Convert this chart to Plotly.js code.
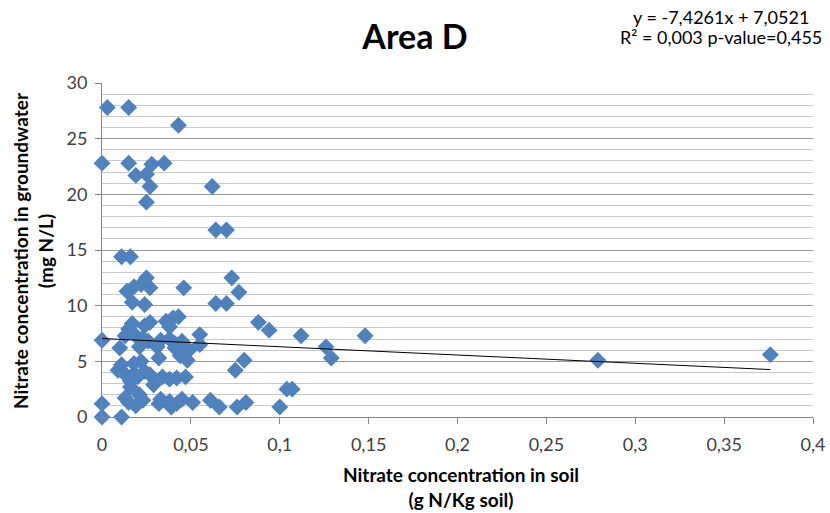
<!DOCTYPE html>
<html>
<head>
<meta charset="utf-8">
<script src="https://cdn.plot.ly/plotly-3.0.1.min.js"></script>
<style>html,body{margin:0;padding:0;background:#fff;}#chart{width:830px;height:513px;}</style>
</head>
<body>
<div id="chart"></div>
<script>
// Nitrate in soil (g N/Kg soil)
const soilNitrate = [
  0.003,0.015,0.043,
  0,0.015,0.028,0.035,
  0.019,0.025,0.027,0.025,0.062,
  0.064,0.070,
  0.011,0.016,
  0.025,0.073,
  0.014,0.018,0.022,0.027,0.046,0.077,
  0.017,0.024,0.064,0.070,
  0.017,0.015,0.024,0.027,0.036,0.038,0.040,0.043,0.088,0.094,
  0,0.013,0.019,0.023,0.026,0.033,0.038,0.041,0.045,0.055,0.112,0.148,
  0.010,0.021,0.031,0.041,0.049,0.055,0.126,
  0.011,0.018,0.022,0.032,0.044,0.048,0.080,0.129,0.279,0.376,
  0.009,0.012,0.018,0.024,0.027,0.075,
  0.016,0.020,0.034,0.038,0.042,0.047,
  0.016,0.029,
  0.104,0.107,
  0.013,0.021,0.023,0.033,0.045,0.061,
  0.015,0.032,0.038,0.042,0.051,0.081,
  0,0.019,0.039,0.066,0.076,0.100,
  0,0.011
];
// Nitrate in groundwater (mg N/L)
const groundwaterNitrate = [
  27.8,27.8,26.2,
  22.8,22.8,22.7,22.8,
  21.7,21.8,20.7,19.3,20.7,
  16.8,16.8,
  14.4,14.4,
  12.5,12.5,
  11.3,11.7,11.9,11.6,11.6,11.2,
  10.3,10.1,10.2,10.2,
  8.4,7.9,8.2,8.5,8.6,8.1,8.9,9.0,8.5,7.8,
  6.9,7.3,7.3,7.1,6.8,6.9,7.0,6.6,6.8,7.4,7.3,7.3,
  6.2,6.3,6.3,6.2,6.0,6.5,6.3,
  4.7,4.8,5.0,5.3,5.5,5.1,5.1,5.3,5.1,5.6,
  4.2,4.0,3.9,4.1,3.8,4.2,
  3.2,3.6,3.6,3.4,3.5,3.6,
  2.7,2.9,
  2.5,2.5,
  1.7,2.0,1.5,1.6,1.6,1.5,
  1.3,1.2,1.4,1.2,1.3,1.3,
  1.2,1.0,0.9,0.9,0.9,0.9,
  0,0
];
const trendSlope = -7.4261;
const trendIntercept = 7.0521;
const titleText = "Area D";
const eqText = "y = -7,4261x + 7,0521";
const statsText = "R² = 0,003 p-value=0,455";
const xTitleText = "Nitrate concentration in soil<br>(g N/Kg soil)";
const yTitleText = "Nitrate concentration in groundwater<br>(mg N/L)";
const xTickVals = [0,0.05,0.1,0.15,0.2,0.25,0.3,0.35,0.4];
const xTickText = ["0","0,05","0,1","0,15","0,2","0,25","0,3","0,35","0,4"];
const yTickVals = [0,5,10,15,20,25,30];

const xMin = Math.min(...soilNitrate), xMax = Math.max(...soilNitrate);
const trendX = [xMin, xMax];
const trendY = trendX.map(v => trendSlope * v + trendIntercept);

const FONT = "Lato, 'Open Sans', sans-serif";
const L = 102, R = 17, T = 83, B = 96, W = 830, H = 513;
const PW = W - L - R, PH = H - T - B;
const px = v => (v - L) / PW;           // pixel x -> paper x
const py = v => (H - B - v) / PH;       // pixel y -> paper y

const data = [
  {
    x: soilNitrate, y: groundwaterNitrate, type: 'scatter', mode: 'markers',
    marker: {symbol: 'diamond', size: 13, color: '#4F81BD', line: {width: 0}},
    cliponaxis: false, hoverinfo: 'x+y'
  },
  {
    x: trendX, y: trendY, type: 'scatter', mode: 'lines',
    line: {color: '#000000', width: 1}, hoverinfo: 'skip'
  }
];

const layout = {
  width: W, height: H,
  margin: {l: L, r: R, t: T, b: B},
  paper_bgcolor: '#ffffff', plot_bgcolor: '#ffffff',
  showlegend: false,
  font: {family: FONT, color: '#404040', size: 18},
  title: {
    text: '<b>' + titleText + '</b>', font: {family: FONT, size: 34, color: '#000000'},
    x: 0.5, xanchor: 'center', xref: 'container',
    y: 1 - 37/H, yanchor: 'middle', yref: 'container'
  },
  xaxis: {
    range: [0, 0.4], tickvals: xTickVals, ticktext: xTickText,
    showgrid: false, zeroline: false,
    showline: true, linecolor: '#868686', linewidth: 1,
    ticks: 'outside', ticklen: 6, tickcolor: '#868686',
    ticklabelstandoff: 5, ticklabeloverflow: 'allow',
    tickfont: {family: FONT, size: 18, color: '#404040'}
  },
  yaxis: {
    range: [0, 30], tickvals: yTickVals,
    showgrid: true, gridcolor: '#9a9a9a', gridwidth: 1,
    minor: {dtick: 1, showgrid: true, gridcolor: '#c8c8c8', gridwidth: 1},
    zeroline: false,
    showline: true, linecolor: '#868686', linewidth: 1,
    ticks: 'outside', ticklen: 6, tickcolor: '#868686',
    ticklabelstandoff: 4, ticklabeloverflow: 'allow',
    tickfont: {family: FONT, size: 18, color: '#404040'}
  },
  annotations: [
    {text: eqText, xref: 'paper', yref: 'paper', x: px(721), y: py(17),
     xanchor: 'center', yanchor: 'middle', showarrow: false,
     font: {family: FONT, size: 18, color: '#000000'}},
    {text: statsText, xref: 'paper', yref: 'paper', x: px(721), y: py(37),
     xanchor: 'center', yanchor: 'middle', showarrow: false,
     font: {family: FONT, size: 18, color: '#000000'}},
    {text: '<b>' + xTitleText + '</b>', xref: 'paper', yref: 'paper', x: px(461), y: py(487),
     xanchor: 'center', yanchor: 'middle', showarrow: false,
     font: {family: FONT, size: 19, color: '#000000'}},
    {text: '<b>' + yTitleText + '</b>', xref: 'paper', yref: 'paper', x: px(33), y: py(251),
     xanchor: 'center', yanchor: 'middle', showarrow: false, textangle: -90,
     font: {family: FONT, size: 19, color: '#000000'}}
  ]
};

Plotly.newPlot('chart', data, layout, {displayModeBar: false, staticPlot: true});
</script>
</body>
</html>
